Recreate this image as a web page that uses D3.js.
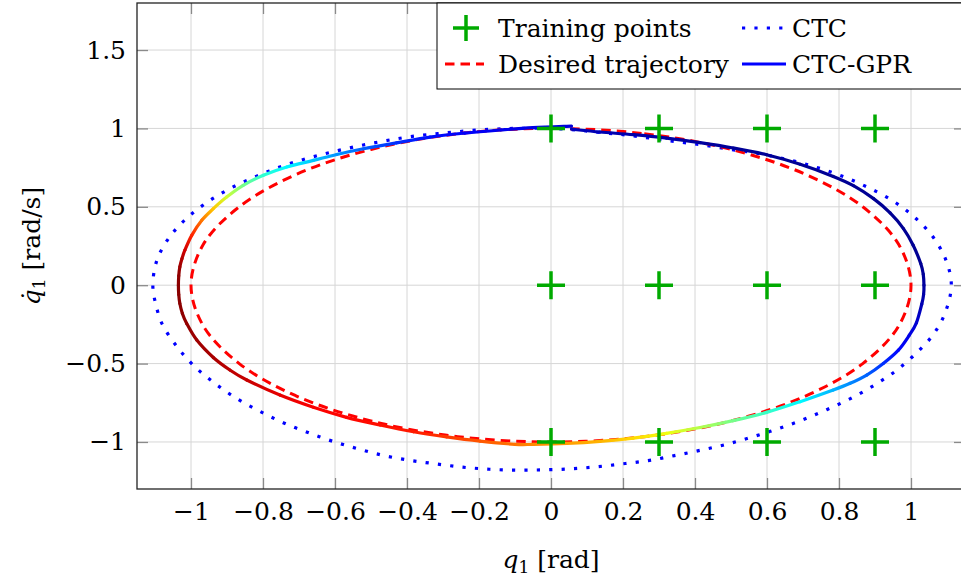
<!DOCTYPE html>
<html>
<head>
<meta http-equiv="Content-Type" content="text/html;charset=utf-8"/>
<script src="https://d3js.org/d3.v7.min.js"></script>
<style type="text/css">
body { margin: 0; background: #fff; }
text { font-family: "DejaVu Serif", serif; fill: #000; }
.grid line { stroke: #d6d6d6; stroke-width: 1; }
.axis line { stroke: #8a8a8a; stroke-width: 1.3; }
.axis .domain { display: none; }
.frame { fill: none; stroke: #222; stroke-width: 1.3; }
.desired { fill: none; stroke: #ff0000; stroke-width: 3; stroke-dasharray: 9.5 6; }
.ctc { fill: none; stroke: #0000ff; stroke-width: 3.2; stroke-dasharray: 3.2 9.2; }
.train { fill: none; stroke: #00aa00; stroke-width: 3.5; }
.legend { fill: #fff; stroke: #000; stroke-width: 1; }
</style>
</head>

<body>
<script>

var width = 961, height = 578;
var fontSize = 25;

// tick values
var xTicks = [-1, -0.8, -0.6, -0.4, -0.2, 0, 0.2, 0.4, 0.6, 0.8, 1];
var yTicks = [-1, -0.5, 0, 0.5, 1, 1.5];

// training grid
var trainQ = [0, 0.3, 0.6, 0.9];
var trainQd = [-1, 0, 1];

// desired trajectory [q, qdot]
var desired = [[0, 1], [0.259, 0.966], [0.5, 0.866], [0.707, 0.707], [0.866, 0.5], [0.966, 0.259],
  [1, 0], [0.966, -0.259], [0.866, -0.5], [0.707, -0.707], [0.5, -0.866], [0.259, -0.966],
  [0, -1], [-0.259, -0.966], [-0.5, -0.866], [-0.707, -0.707], [-0.866, -0.5], [-0.966, -0.259],
  [-1, 0], [-0.966, 0.259], [-0.866, 0.5], [-0.707, 0.707], [-0.5, 0.866], [-0.259, 0.966]];

// CTC response
var ctc = [[0.07, 0.99], [0.127, 0.976], [0.2, 0.96], [0.275, 0.938], [0.349, 0.915], [0.423, 0.894],
  [0.497, 0.866], [0.568, 0.843], [0.675, 0.792], [0.747, 0.745], [0.817, 0.688], [0.884, 0.62],
  [0.949, 0.539], [1.008, 0.437], [1.059, 0.314], [1.096, 0.166], [1.112, 0.006], [1.097, -0.163],
  [1.064, -0.308], [1.014, -0.435], [0.958, -0.546], [0.897, -0.639], [0.833, -0.722], [0.766, -0.794],
  [0.698, -0.86], [0.629, -0.917], [0.559, -0.968], [0.487, -1.015], [0.415, -1.053], [0.343, -1.087],
  [0.27, -1.119], [0.197, -1.14], [0.124, -1.159], [0.051, -1.172], [-0.023, -1.178], [-0.097, -1.18],
  [-0.171, -1.174], [-0.245, -1.161], [-0.319, -1.14], [-0.392, -1.117], [-0.464, -1.087], [-0.534, -1.045],
  [-0.606, -0.996], [-0.675, -0.94], [-0.744, -0.877], [-0.81, -0.803], [-0.875, -0.72], [-0.935, -0.624],
  [-0.992, -0.514], [-1.04, -0.389], [-1.08, -0.248], [-1.098, -0.12], [-1.106, 0], [-1.094, 0.164],
  [-1.058, 0.312], [-1.008, 0.435], [-0.95, 0.537], [-0.887, 0.622], [-0.819, 0.694], [-0.751, 0.756],
  [-0.68, 0.807], [-0.609, 0.849], [-0.537, 0.887], [-0.465, 0.919], [-0.392, 0.947], [-0.3, 0.97],
  [-0.2, 0.99], [-0.1, 1.0], [0, 1.0]];

// CTC-GPR response [q, qdot, colour value]
var gpr = [[0.057, 0.995, 0.06], [0.136, 0.977, 0.05], [0.229, 0.96, 0.04], [0.321, 0.938, 0.035],
  [0.414, 0.909, 0.03], [0.506, 0.875, 0.025], [0.599, 0.832, 0.02], [0.692, 0.771, 0.02],
  [0.784, 0.694, 0.02], [0.84, 0.635, 0.02], [0.896, 0.552, 0.02], [0.942, 0.461, 0.02],
  [0.979, 0.361, 0.02], [1.006, 0.255, 0.02], [1.027, 0.138, 0.02], [1.034, 0.07, 0.025],
  [1.036, 0.0, 0.03], [1.035, -0.06, 0.04],
  [1.03, -0.12, 0.05], [1.015, -0.24, 0.08], [0.995, -0.32, 0.1], [0.965, -0.414, 0.13],
  [0.923, -0.499, 0.17], [0.877, -0.573, 0.22], [0.831, -0.626, 0.26], [0.784, -0.669, 0.3],
  [0.692, -0.743, 0.37], [0.599, -0.811, 0.43], [0.506, -0.864, 0.49], [0.414, -0.908, 0.55],
  [0.321, -0.945, 0.61], [0.229, -0.975, 0.66], [0.136, -0.996, 0.7], [0.044, -1.009, 0.72],
  [-0.049, -1.015, 0.74], [-0.1, -1.015, 0.76], [-0.197, -0.995, 0.79], [-0.29, -0.968, 0.82],
  [-0.382, -0.935, 0.85], [-0.475, -0.892, 0.86], [-0.568, -0.843, 0.87], [-0.66, -0.779, 0.88],
  [-0.753, -0.701, 0.9], [-0.845, -0.605, 0.93], [-0.892, -0.541, 0.94], [-0.938, -0.461, 0.96],
  [-0.984, -0.35, 0.97], [-1.012, -0.244, 0.98], [-1.024, -0.18, 0.985], [-1.031, -0.117, 0.99],
  [-1.034, -0.06, 0.99], [-1.035, 0, 0.99], [-1.034, 0.06, 0.985],
  [-1.031, 0.117, 0.97], [-1.025, 0.17, 0.95], [-1.017, 0.223, 0.92], [-0.998, 0.318, 0.84], [-0.97, 0.414, 0.76],
  [-0.938, 0.488, 0.68], [-0.901, 0.562, 0.58], [-0.855, 0.637, 0.49], [-0.799, 0.701, 0.42],
  [-0.734, 0.754, 0.37], [-0.66, 0.796, 0.32], [-0.595, 0.834, 0.27], [-0.521, 0.87, 0.22],
  [-0.429, 0.908, 0.17], [-0.336, 0.945, 0.14], [-0.24, 0.97, 0.12], [-0.14, 0.99, 0.11],
  [-0.05, 1.005, 0.1], [0.057, 1.015, 0.09]];


var x = d3.scaleLinear().domain([-1.15, 1.15]).range([137, 965]);
var y = d3.scaleLinear().domain([-1.3, 1.8]).range([489, 3]);

var jet = d3.scaleLinear()
    .domain([0, 0.125, 0.375, 0.625, 0.875, 1])
    .range(["#000080", "#0000ff", "#00ffff", "#ffff00", "#ff0000", "#800000"]);

var fmt = d3.format("");

var svg = d3.select("body").append("svg")
    .attr("width", width)
    .attr("height", height);

var defs = svg.append("defs");

// grid
var grid = svg.append("g").attr("class", "grid");
grid.selectAll(".gx").data(xTicks).enter().append("line")
    .attr("x1", d => x(d)).attr("x2", d => x(d))
    .attr("y1", y(-1.3)).attr("y2", y(1.8));
grid.selectAll(".gy").data(yTicks).enter().append("line")
    .attr("x1", x(-1.15)).attr("x2", x(1.15))
    .attr("y1", d => y(d)).attr("y2", d => y(d));

// axes, ticks inside on all four sides
function styleAxis(g) {
  g.attr("font-family", null).attr("font-size", fontSize);
  g.selectAll("text").style("font-family", '"DejaVu Serif", serif');
}
svg.append("g").attr("class", "axis")
    .attr("transform", "translate(0," + y(-1.3) + ")")
    .call(d3.axisBottom(x).tickValues(xTicks).tickSize(-11).tickPadding(13).tickFormat(fmt))
    .call(styleAxis);
svg.append("g").attr("class", "axis")
    .attr("transform", "translate(0," + y(1.8) + ")")
    .call(d3.axisTop(x).tickValues(xTicks).tickSize(-11).tickFormat(""));
svg.append("g").attr("class", "axis")
    .attr("transform", "translate(" + x(-1.15) + ",0)")
    .call(d3.axisLeft(y).tickValues(yTicks).tickSize(-11).tickPadding(11).tickFormat(fmt))
    .call(styleAxis);
svg.append("g").attr("class", "axis")
    .attr("transform", "translate(" + x(1.15) + ",0)")
    .call(d3.axisRight(y).tickValues(yTicks).tickSize(-11).tickFormat(""));

var plot = svg.append("g");

var closedLine = d3.line()
    .x(d => x(d[0])).y(d => y(d[1]))
    .curve(d3.curveCatmullRomClosed);

plot.append("path").datum(ctc).attr("class", "ctc").attr("d", closedLine);
plot.append("path").datum(desired).attr("class", "desired").attr("d", closedLine);

// colour-mapped CTC-GPR line: one smooth bezier piece per segment, each with its own gradient
var pts = gpr.map(d => [x(d[0]), y(d[1])]);
for (var i = 0; i < pts.length - 1; i++) {
  var p0 = pts[Math.max(i - 1, 0)], p1 = pts[i], p2 = pts[i + 1], p3 = pts[Math.min(i + 2, pts.length - 1)];
  var c1 = [p1[0] + (p2[0] - p0[0]) / 6, p1[1] + (p2[1] - p0[1]) / 6];
  var c2 = [p2[0] - (p3[0] - p1[0]) / 6, p2[1] - (p3[1] - p1[1]) / 6];
  var grad = defs.append("linearGradient")
      .attr("id", "seg" + i)
      .attr("gradientUnits", "userSpaceOnUse")
      .attr("x1", p1[0]).attr("y1", p1[1])
      .attr("x2", p2[0]).attr("y2", p2[1]);
  grad.append("stop").attr("offset", 0).attr("stop-color", jet(gpr[i][2]));
  grad.append("stop").attr("offset", 1).attr("stop-color", jet(gpr[i + 1][2]));
  plot.append("path")
      .attr("d", "M" + p1 + "C" + c1 + " " + c2 + " " + p2)
      .attr("fill", "none")
      .attr("stroke", "url(#seg" + i + ")")
      .attr("stroke-width", 3.2)
      .attr("stroke-linecap", "round");
}

// training points
var train = [];
trainQd.forEach(function(qd) { trainQ.forEach(function(q) { train.push([q, qd]); }); });
plot.selectAll(".train").data(train).enter().append("path")
    .attr("class", "train")
    .attr("transform", d => "translate(" + x(d[0]) + "," + y(d[1]) + ")")
    .attr("d", "M-14,0H14M0,-14V14");

// frame
svg.append("rect").attr("class", "frame")
    .attr("x", x(-1.15)).attr("y", y(1.8))
    .attr("width", x(1.15) - x(-1.15)).attr("height", y(-1.3) - y(1.8));

// axis labels
var xl = svg.append("text").attr("x", 551).attr("y", 568).attr("text-anchor", "middle").attr("font-size", fontSize);
xl.append("tspan").attr("font-style", "italic").text("q");
xl.append("tspan").attr("font-size", 17).attr("dy", 5).text("1");
xl.append("tspan").attr("dy", -5).text("\u00a0[rad]");

var yl = svg.append("text").attr("transform", "translate(40,246) rotate(-90)")
    .attr("text-anchor", "middle").attr("font-size", fontSize);
yl.append("tspan").attr("font-style", "italic").text("q\u0307");
yl.append("tspan").attr("font-size", 17).attr("dy", 5).text("1");
yl.append("tspan").attr("dy", -5).text("\u00a0[rad/s]");

// legend
var leg = svg.append("g");
leg.append("rect").attr("class", "legend").attr("x", 437).attr("y", 3).attr("width", 600).attr("height", 86);
leg.append("path").attr("class", "train").attr("transform", "translate(466,28)").attr("d", "M-13,0H13M0,-13V13");
leg.append("line").attr("class", "desired").attr("x1", 445).attr("x2", 484).attr("y1", 64).attr("y2", 64);
leg.append("line").attr("class", "ctc").attr("x1", 742).attr("x2", 786).attr("y1", 28).attr("y2", 28);
leg.append("line").attr("x1", 742).attr("x2", 786).attr("y1", 64).attr("y2", 64)
    .attr("stroke", "#0000ff").attr("stroke-width", 3);
var legText = [["Training points", 498, 37], ["Desired trajectory", 498, 73], ["CTC", 792, 37], ["CTC-GPR", 792, 73]];
leg.selectAll(".lt").data(legText).enter().append("text")
    .attr("x", d => d[1]).attr("y", d => d[2]).attr("font-size", fontSize)
    .text(d => d[0]);

</script>
</body>
</html>
